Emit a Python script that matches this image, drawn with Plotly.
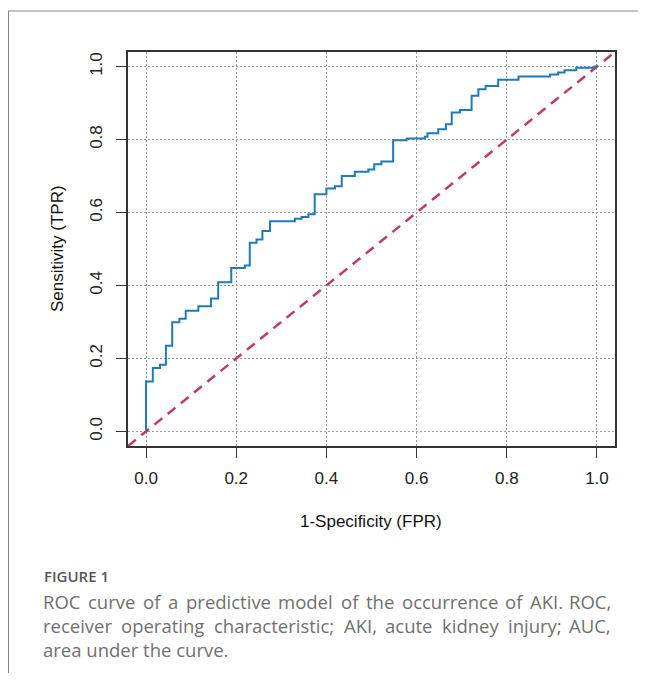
import plotly.graph_objects as go

# ---- data ----
fpr = [0.0, 0.0, 0.015, 0.031, 0.044, 0.058, 0.074, 0.088, 0.116, 0.144, 0.160,
       0.189, 0.219, 0.230, 0.245, 0.258, 0.275, 0.330, 0.345, 0.360, 0.374,
       0.400, 0.419, 0.434, 0.463, 0.493, 0.506, 0.522, 0.548, 0.578, 0.618,
       0.624, 0.648, 0.665, 0.678, 0.696, 0.722, 0.737, 0.753, 0.781, 0.826,
       0.896, 0.914, 0.928, 0.954, 0.995, 1.0]
tpr = [0.0, 0.137, 0.174, 0.183, 0.235, 0.299, 0.309, 0.331, 0.343, 0.364, 0.409,
       0.448, 0.455, 0.517, 0.526, 0.549, 0.576, 0.583, 0.588, 0.595, 0.650,
       0.666, 0.672, 0.700, 0.712, 0.718, 0.732, 0.740, 0.798, 0.803, 0.808,
       0.817, 0.828, 0.842, 0.874, 0.881, 0.920, 0.938, 0.947, 0.964, 0.973,
       0.978, 0.984, 0.990, 0.997, 1.0, 1.0]
tick_vals = [0.0, 0.2, 0.4, 0.6, 0.8, 1.0]
tick_text = ["0.0", "0.2", "0.4", "0.6", "0.8", "1.0"]
axis_range = [-0.04, 1.04]

x_title = "1-Specificity (FPR)"
y_title = "Sensitivity (TPR)"
caption_head = "FIGURE 1"
caption_lines = [
    "ROC curve of a predictive model of the occurrence of AKI. ROC,",
    "receiver operating characteristic; AKI, acute kidney injury; AUC,",
    "area under the curve.",
]
caption_justify = [True, True, False]

# ---- layout (page pixel coordinates; the page body has an 8px margin) ----
OFF = 8
W, H = 646 - 2 * OFF, 681 - 2 * OFF
L, R, T, B = 128 - OFF, 615 - OFF, 52 - OFF, 446 - OFF  # plot area in figure px


def px_x(p):
    return (p - OFF - L) / (R - L)


def px_y(p):
    return (B - (p - OFF)) / (B - T)


# approximate Open Sans advance widths (units per 2048 em)
OS_W = {' ': 532, 'a': 1139, 'b': 1255, 'c': 975, 'd': 1255, 'e': 1149, 'f': 694,
        'g': 1122, 'h': 1257, 'i': 518, 'j': 518, 'k': 1075, 'l': 518, 'm': 1905,
        'n': 1257, 'o': 1237, 'p': 1255, 'q': 1255, 'r': 836, 's': 977, 't': 723,
        'u': 1257, 'v': 1026, 'w': 1593, 'x': 1073, 'y': 1028, 'z': 977,
        'A': 1296, 'C': 1292, 'I': 596, 'K': 1208, 'O': 1599, 'R': 1255,
        'U': 1511, '.': 545, ',': 502, ';': 545}


def text_w(s, size):
    return sum(OS_W.get(ch, 1150) for ch in s) * size / 2048.0


fig = go.Figure()
fig.add_trace(go.Scatter(
    x=axis_range, y=axis_range, mode="lines",
    line=dict(color="#C03A62", width=2.5, dash="10px,7px"),
    hoverinfo="skip", showlegend=False))
fig.add_trace(go.Scatter(
    x=fpr, y=tpr, mode="lines", line_shape="hv",
    line=dict(color="#1F7AB8", width=2), showlegend=False))

axis_common = dict(
    range=axis_range, tickvals=tick_vals, ticktext=tick_text,
    showgrid=True, gridcolor="#9A9A9A", griddash="1.5px,2.5px", gridwidth=1.2,
    zeroline=False, showline=True, linecolor="#333", linewidth=1.5,
    mirror=True, ticks="outside", ticklen=10, tickwidth=1.2, tickcolor="#333",
    tickfont=dict(family="Liberation Sans, Arial", size=17, color="#222"),
)
fig.update_xaxes(**axis_common, ticklabelstandoff=6)
fig.update_yaxes(**axis_common, tickangle=-90, ticklabelstandoff=7)

title_font = dict(family="Liberation Sans, Arial", size=17, color="#111")
annotations = [
    dict(text=x_title, x=px_x(371), y=px_y(521), xref="paper", yref="paper",
         showarrow=False, xanchor="center", yanchor="middle", font=title_font),
    dict(text=y_title, x=px_x(57), y=px_y(249), xref="paper", yref="paper",
         showarrow=False, xanchor="center", yanchor="middle", textangle=-90,
         font=title_font),
    dict(text=caption_head, x=px_x(42), y=px_y(576), xref="paper", yref="paper",
         showarrow=False, xanchor="left", yanchor="middle",
         font=dict(family="Open Sans", size=15, color="#555", weight=600)),
]

CAP_SIZE = 18.5
CAP_LEFT, CAP_RIGHT = 42, 612
line_y = [601, 625, 649]
cap_font = dict(family="Open Sans", size=CAP_SIZE, color="#707070")
for txt, yy, just in zip(caption_lines, line_y, caption_justify):
    if not just:
        annotations.append(dict(
            text=txt, x=px_x(CAP_LEFT), y=px_y(yy), xref="paper", yref="paper",
            showarrow=False, xanchor="left", yanchor="middle",
            borderpad=0, font=cap_font))
        continue
    words = txt.split(" ")
    widths = [text_w(w, CAP_SIZE) for w in words]
    gap = (CAP_RIGHT - CAP_LEFT - sum(widths)) / (len(words) - 1)
    pos = CAP_LEFT
    for i, (w, wd) in enumerate(zip(words, widths)):
        last = i == len(words) - 1
        annotations.append(dict(
            text=w, x=px_x(CAP_RIGHT if last else pos), y=px_y(yy),
            xref="paper", yref="paper", showarrow=False,
            xanchor="right" if last else "left", yanchor="middle",
            borderpad=0, font=cap_font))
        pos += wd + gap

shapes = [
    dict(type="line", xref="paper", yref="paper",
         x0=px_x(8), x1=px_x(660), y0=px_y(11), y1=px_y(11),
         line=dict(color="#888", width=1)),
    dict(type="line", xref="paper", yref="paper",
         x0=px_x(8.5), x1=px_x(8.5), y0=px_y(11), y1=px_y(700),
         line=dict(color="#888", width=1)),
]

fig.update_layout(
    width=W, height=H,
    margin=dict(l=L, r=W - R, t=T, b=H - B),
    paper_bgcolor="white", plot_bgcolor="white",
    annotations=annotations, shapes=shapes,
)

fig.write_html("out.html")
